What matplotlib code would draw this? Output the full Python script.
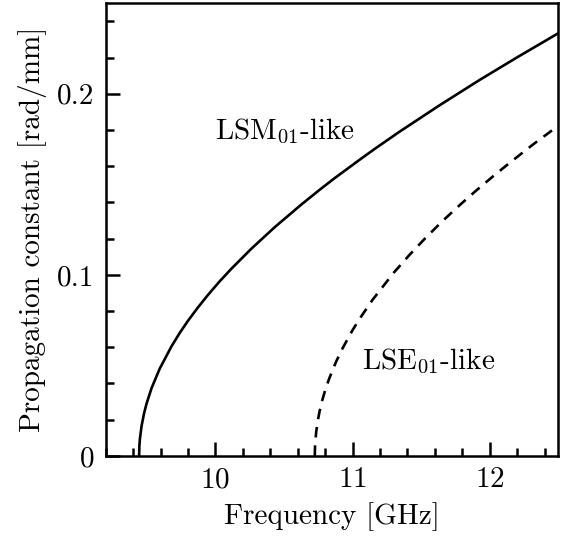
import matplotlib
matplotlib.use("Agg")
import matplotlib.pyplot as plt
from matplotlib.ticker import MultipleLocator, FixedLocator, FixedFormatter

# dispersion curves (GHz, rad/mm)
lsm_freq = [9.444, 9.446, 9.450, 9.462, 9.480, 9.498, 9.535, 9.595, 9.680, 9.740,
            9.801, 9.870, 9.946, 10.030, 10.116, 10.262, 10.431, 10.625, 10.759,
            10.868, 11.049, 11.159, 11.340, 11.630, 11.922, 12.200, 12.500]
lsm_beta = [0.0, 0.0056, 0.0096, 0.0166, 0.0235, 0.0288, 0.0375, 0.0483, 0.0605, 0.0679,
            0.0747, 0.0817, 0.0889, 0.0963, 0.1033, 0.1144, 0.1262, 0.1387, 0.1469,
            0.1533, 0.1634, 0.1694, 0.1789, 0.1934, 0.2074, 0.2201, 0.2334]

lse_freq = [10.725, 10.727, 10.735, 10.745, 10.759, 10.780, 10.800, 10.831, 10.880,
            10.928, 11.000, 11.049, 11.146, 11.300, 11.413, 11.530, 11.655, 11.780,
            11.898, 12.020, 12.140, 12.320, 12.500]
lse_beta = [0.0, 0.0058, 0.0131, 0.0186, 0.0243, 0.0309, 0.0361, 0.0429, 0.0520,
            0.0595, 0.0694, 0.0754, 0.0862, 0.1011, 0.1108, 0.1202, 0.1296, 0.1384,
            0.1463, 0.1541, 0.1615, 0.1722, 0.1823]

y_ticks = [0.0, 0.1, 0.2]
y_ticklabels = ["0", "0.1", "0.2"]

plt.rcParams["font.family"] = "serif"
plt.rcParams["font.serif"] = ["cmr10", "DejaVu Serif"]
plt.rcParams["mathtext.fontset"] = "cm"
plt.rcParams["axes.formatter.use_mathtext"] = True

fs = 21

fig = plt.figure(figsize=(5.65, 5.37), dpi=100)
ax = fig.add_axes([0.187, 0.151, 0.801, 0.843])

ax.plot(lsm_freq, lsm_beta, color="black", lw=1.9)
ax.plot(lse_freq, lse_beta, color="black", lw=1.9, linestyle=(0, (4, 3)))

ax.text(10.0, 0.179, r"LSM$_{01}$-like", fontsize=fs, va="center", ha="left")
ax.text(11.07, 0.052, r"LSE$_{01}$-like", fontsize=fs, va="center", ha="left")

ax.set_xlim(9.2, 12.5)
ax.set_ylim(0, 0.25)
ax.xaxis.set_major_locator(MultipleLocator(1))
ax.xaxis.set_minor_locator(MultipleLocator(0.2))
ax.yaxis.set_major_locator(FixedLocator(y_ticks))
ax.yaxis.set_major_formatter(FixedFormatter(y_ticklabels))
ax.yaxis.set_minor_locator(MultipleLocator(0.02))

ax.tick_params(which="both", direction="in", top=False, right=False,
               width=1.8, labelsize=fs, pad=8)
ax.tick_params(which="major", length=10)
ax.tick_params(which="minor", length=6)
for s in ax.spines.values():
    s.set_linewidth(1.8)

ax.set_xlabel("Frequency [GHz]", fontsize=fs, labelpad=6)
ax.set_ylabel("Propagation constant [rad/mm]", fontsize=fs, labelpad=7)

fig.savefig("out.png", dpi=100)
